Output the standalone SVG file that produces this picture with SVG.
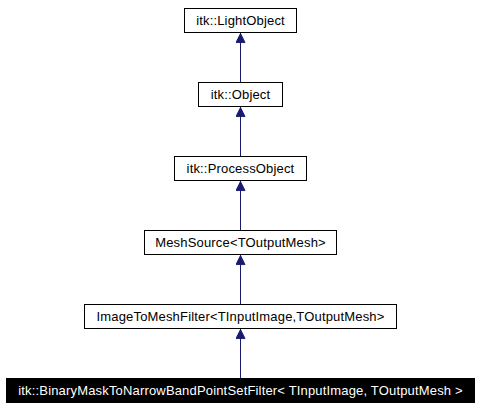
<svg xmlns="http://www.w3.org/2000/svg" width="477" height="411" viewBox="0 0 477 411">
<defs>
<style>
.box{fill:#fff;stroke:#000;stroke-width:1}
.dark{fill:#000;stroke:#000;stroke-width:1}
.t{font-family:"Liberation Sans",Arial,sans-serif;font-size:13px;letter-spacing:0.17px;text-anchor:middle;fill:#000}
.tw{fill:#fff}
.edge{stroke:#191970;stroke-width:1;fill:none}
</style>
<marker id="arr" viewBox="0 0 10 11" refX="10.5" refY="5.5" markerWidth="11" markerHeight="10" markerUnits="userSpaceOnUse" orient="auto">
<path d="M0,0.5 L10,5.5 L0,10.5 Z" fill="#191970" stroke="#191970"/>
</marker>
</defs>
<rect width="477" height="411" fill="#fff"/>
<g id="connectors">
<line class="edge" x1="240.5" y1="82" x2="240.5" y2="33" marker-end="url(#arr)"/>
<line class="edge" x1="240.5" y1="156" x2="240.5" y2="107" marker-end="url(#arr)"/>
<line class="edge" x1="240.5" y1="230" x2="240.5" y2="181" marker-end="url(#arr)"/>
<line class="edge" x1="240.5" y1="304" x2="240.5" y2="255" marker-end="url(#arr)"/>
<line class="edge" x1="240.5" y1="378" x2="240.5" y2="329" marker-end="url(#arr)"/>
</g>
<g id="LightObject">
<rect class="box" x="184.5" y="8.5" width="112" height="24"/>
<text class="t" x="240.5" y="25">itk::LightObject</text>
</g>
<g id="Object">
<rect class="box" x="198.5" y="82.5" width="84" height="24"/>
<text class="t" x="240.5" y="99">itk::Object</text>
</g>
<g id="ProcessObject">
<rect class="box" x="174.5" y="156.5" width="132" height="24"/>
<text class="t" x="240.5" y="173">itk::ProcessObject</text>
</g>
<g id="MeshSource">
<rect class="box" x="144.5" y="230.5" width="192" height="24"/>
<text class="t" x="240.5" y="247">MeshSource&lt;TOutputMesh&gt;</text>
</g>
<g id="ImageToMeshFilter">
<rect class="box" x="84.5" y="304.5" width="312" height="24"/>
<text class="t" x="240.5" y="321">ImageToMeshFilter&lt;TInputImage,TOutputMesh&gt;</text>
</g>
<g id="BinaryMaskToNarrowBandPointSetFilter">
<rect class="dark" x="6.5" y="378.5" width="468" height="24"/>
<text class="t tw" x="240.5" y="395">itk::BinaryMaskToNarrowBandPointSetFilter&lt; TInputImage, TOutputMesh &gt;</text>
</g>
</svg>
